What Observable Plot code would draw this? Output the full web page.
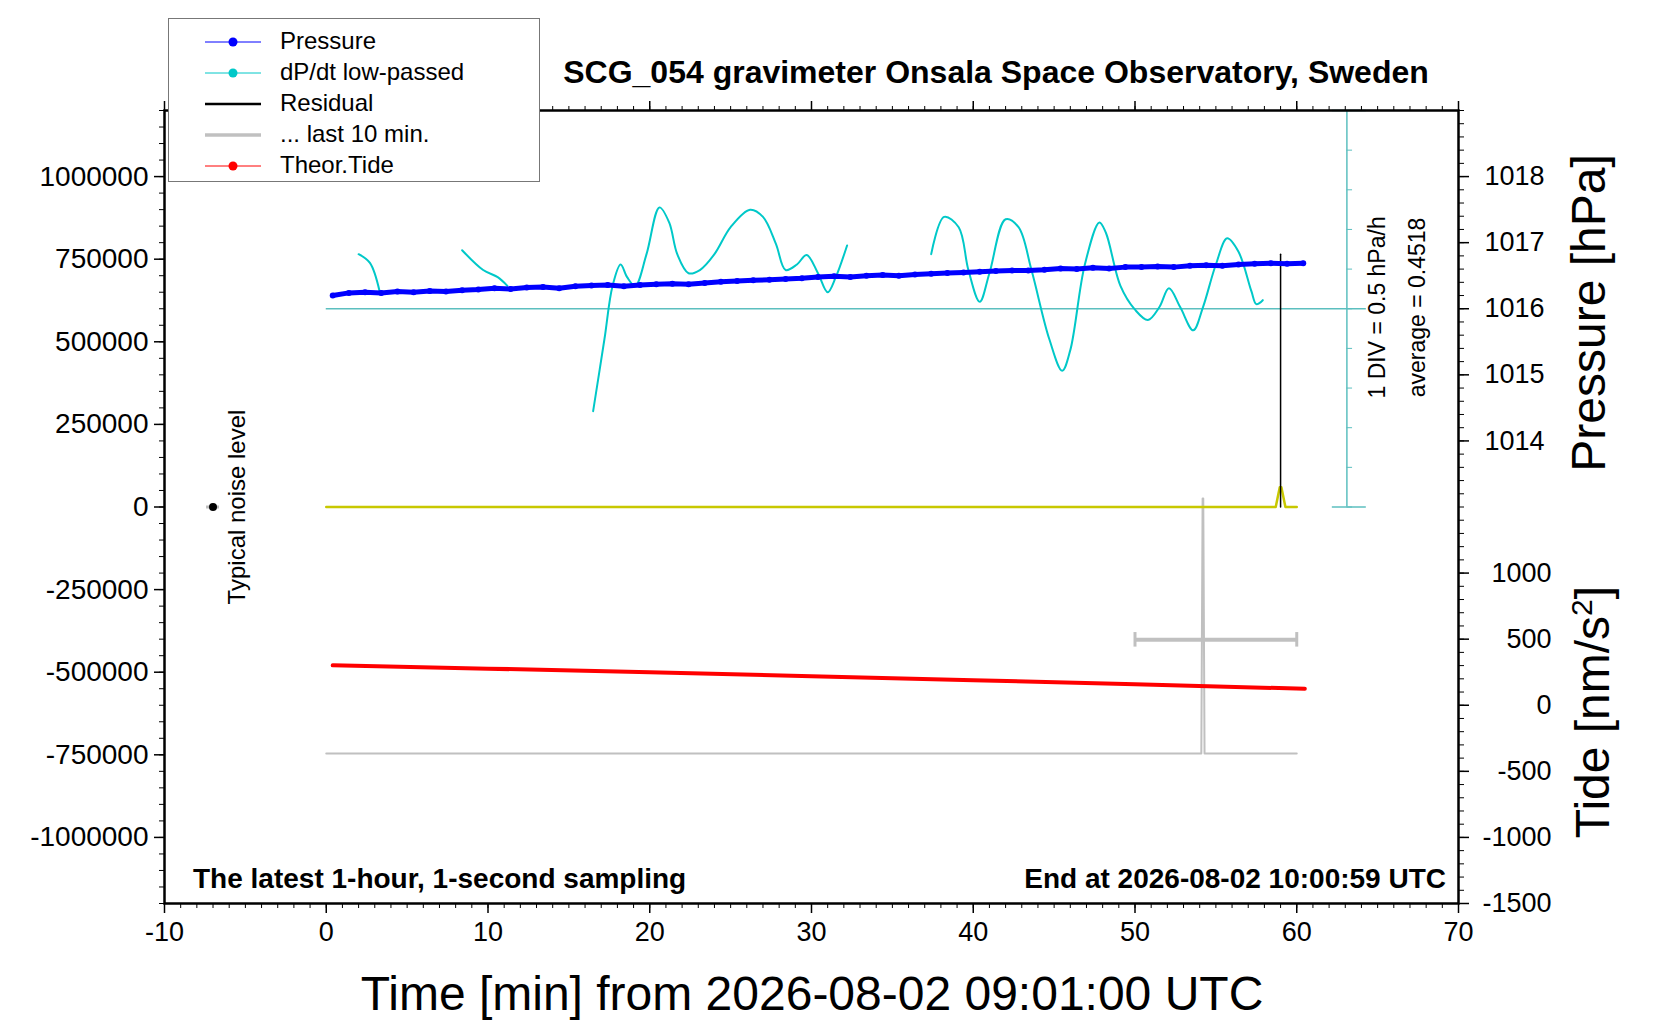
<!DOCTYPE html>
<html><head><meta charset="utf-8">
<script src="https://cdn.jsdelivr.net/npm/d3@7"></script>
<script src="https://cdn.jsdelivr.net/npm/@observablehq/plot@0.6"></script>
<style>
body{margin:0;background:#fff;font-family:"Liberation Sans",Arial,sans-serif;}
#wrap{position:relative;width:1660px;height:1020px;overflow:hidden;}
.ab{position:absolute;white-space:nowrap;color:#000;line-height:1;}
</style></head><body><div id="wrap"></div>
<script>
// ---- data ----
const pressTime = d3.range(0.4, 60.5, 1);
const pressHpa = [1016.20,1016.24,1016.25,1016.24,1016.26,1016.25,1016.27,1016.26,1016.28,1016.29,1016.31,1016.30,1016.32,1016.33,1016.31,1016.34,1016.35,1016.36,1016.34,1016.36,1016.37,1016.38,1016.37,1016.39,1016.41,1016.42,1016.43,1016.44,1016.45,1016.46,1016.48,1016.49,1016.48,1016.50,1016.51,1016.50,1016.52,1016.53,1016.54,1016.55,1016.56,1016.57,1016.58,1016.58,1016.59,1016.61,1016.60,1016.62,1016.61,1016.63,1016.63,1016.64,1016.63,1016.65,1016.66,1016.65,1016.67,1016.68,1016.69,1016.68,1016.69];
const dpSeg = [
 {t:[2.0,2.7,3.3], v:[1.14,1.03,0.67]},
 {t:[8.4,9.7,10.6,11.2], v:[1.19,0.94,0.85,0.74]},
 {t:[16.5,17.2,17.7,18.2,18.6,19.1,19.8,20.6,21.2,21.7,22.4,23.1,24.0,25.0,26.2,27.0,27.8,28.4,29.1,29.7,30.4,31.0,31.5,32.2],
  v:[-0.84,0.07,0.74,1.01,0.85,0.74,1.14,1.73,1.54,1.14,0.90,0.94,1.14,1.48,1.70,1.61,1.27,0.94,1.01,1.13,0.90,0.66,0.85,1.25]},
 {t:[37.4,38.2,39.1,39.7,40.4,41.0,42.0,42.8,43.6,44.7,45.5,46.0,46.9,47.8,48.2,49.1,50.0,50.8,51.5,52.1,52.8,53.6,54.2,55.0,55.7,56.4,57.2,57.5,57.9],
  v:[1.14,1.61,1.48,0.94,0.54,0.90,1.58,1.48,0.94,0.07,-0.33,-0.07,1.01,1.54,1.41,0.74,0.44,0.31,0.47,0.71,0.47,0.18,0.47,1.01,1.34,1.17,0.67,0.51,0.56]}
];
const dpAverage = 0.4518, dpPerDiv = 0.5;
const tideTime = [0.4,10,20,30,40,50,60.5];
const tideVal = [302,277,250,220,190,158,125];
const residTime = [0,13.4,13.5,14.3,14.4,58.7,58.95,59.0,59.05,59.3,60];
const residVal  = [0,0,0,0,0,0,60000,60000,60000,0,0];
const residBlackTime = [59.0,59.0];
const residBlackVal = [0,765000];
const lastTime = [0,54.1,54.18,54.22,54.3,60];
const lastVal = [-746000,-746000,26000,26000,-746000,-746000];
const lastBar = {x1:50,x2:60,x:54.2,y:-402000};
const noise = {x:-7,y:0};
const leftTicks = d3.range(-1000000,1000001,250000);
const pressTicks = [1014,1015,1016,1017,1018];
const tideTicks = [-1500,-1000,-500,0,500,1000];
const xTicks = d3.range(-10,71,10);

// ---- mappings onto the gravity axis ----
const gP = p => 1e6 + (p-1018)*200000;
const gT = t => -600000 + 400*t;
const gD = v => 600000 + (v-dpAverage)/dpPerDiv*120000;

const press = pressTime.map((t,i)=>({t, g:gP(pressHpa[i])}));
const dp = dpSeg.flatMap((s,k)=>s.t.map((t,i)=>({t, g:gD(s.v[i]), k})));
const tide = tideTime.map((t,i)=>({t, g:gT(tideVal[i])}));
const resid = residTime.map((t,i)=>({t,g:residVal[i]}));
const residB = residBlackTime.map((t,i)=>({t,g:residBlackVal[i]}));
const last = lastTime.map((t,i)=>({t,g:lastVal[i]}));
const cyanAxisX = 63.1;
const cyanTicks = d3.range(0,1200001,120000);

const font = "Liberation Sans, Arial, sans-serif";
const chart = Plot.plot({
  width:1660, height:1020,
  marginLeft:164, marginRight:202, marginTop:110, marginBottom:117,
  style:{fontFamily:font, background:"white"},
  x:{type:"linear",domain:[-10,70]},
  y:{type:"linear",domain:[-1200000,1200000]},
  marks:[
    Plot.ruleY([600000],{x1:0,x2:64.3,stroke:"#5cbfbf",strokeWidth:1.5}),
    Plot.ruleX([cyanAxisX],{y1:0,y2:1200000,stroke:"#5cbfbf",strokeWidth:1.5}),
    Plot.ruleY(cyanTicks,{x1:cyanAxisX,x2:cyanAxisX+0.35,y:d=>d,stroke:"#5cbfbf",strokeWidth:1}),
    Plot.ruleY([0,1200000],{x1:62.2,x2:64.3,stroke:"#5cbfbf",strokeWidth:1.5}),
    Plot.text(["1 DIV = 0.5 hPa/h"],{x:65.0,y:604000,rotate:-90,fontSize:23,fill:"#000"}),
    Plot.text(["average = 0.4518"],{x:67.5,y:604000,rotate:-90,fontSize:23,fill:"#000"}),
    Plot.line(dp,{x:"t",y:"g",z:"k",stroke:"#00c8c8",strokeWidth:2,curve:"catmull-rom"}),
    Plot.line(last,{x:"t",y:"g",stroke:"#c0c0c0",strokeWidth:2}),
    Plot.ruleY([lastBar],{x1:"x1",x2:"x2",y:"y",stroke:"#c0c0c0",strokeWidth:4}),
    Plot.ruleX([lastBar.x1,lastBar.x2],{x:d=>d,y1:lastBar.y-22000,y2:lastBar.y+22000,stroke:"#c0c0c0",strokeWidth:3}),
    Plot.line(resid,{x:"t",y:"g",stroke:"#c8c800",strokeWidth:2.5}),
    Plot.line(residB,{x:"t",y:"g",stroke:"#000",strokeWidth:1.5}),
    Plot.line(press,{x:"t",y:"g",stroke:"#0000ff",strokeWidth:5}),
    Plot.dot(press,{x:"t",y:"g",fill:"#0000ff",r:3}),
    Plot.line(tide,{x:"t",y:"g",stroke:"#ff0000",strokeWidth:4}),
    Plot.ruleY([noise],{x1:-7.4,x2:-6.6,y:"y",stroke:"#bbb",strokeWidth:3}),
    Plot.dot([noise],{x:"x",y:"y",fill:"#000",r:4}),
    Plot.text(["Typical noise level"],{x:-5.5,y:0,rotate:-90,fontSize:24,fill:"#000"}),
    Plot.axisY(leftTicks,{anchor:"left",tickSize:10,tickPadding:6,fontSize:28,tickFormat:d=>String(d),label:null,strokeWidth:1.5}),
    Plot.axisY(d3.range(-1200000,1200001,50000),{anchor:"left",tickSize:5,tickFormat:()=>"",label:null}),
    Plot.axisY(pressTicks.map(gP),{anchor:"right",tickSize:10,tickPadding:76,textAnchor:"end",fontSize:27,tickFormat:d=>String(Math.round((d-1e6)/200000+1018)),label:null,strokeWidth:1.5}),
    Plot.axisY(tideTicks.map(gT),{anchor:"right",tickSize:10,tickPadding:83,textAnchor:"end",fontSize:27,tickFormat:d=>String(Math.round((d+600000)/400)),label:null,strokeWidth:1.5}),
    Plot.axisY(d3.range(0,1200001,40000),{anchor:"right",tickSize:5,tickFormat:()=>"",label:null}),
    Plot.axisY(d3.range(-1200000,0,40000),{anchor:"right",tickSize:5,tickFormat:()=>"",label:null}),
    Plot.axisX(xTicks,{anchor:"bottom",tickSize:10,tickPadding:8,fontSize:27,tickFormat:d=>String(d),label:null,strokeWidth:1.5}),
    Plot.axisX(d3.range(-10,71,1),{anchor:"bottom",tickSize:5,tickFormat:()=>"",label:null}),
    Plot.axisX(xTicks,{anchor:"top",tickSize:10,tickFormat:()=>"",label:null,strokeWidth:1.5}),
    Plot.axisX(d3.range(-10,71,1),{anchor:"top",tickSize:5,tickFormat:()=>"",label:null}),
    Plot.frame({stroke:"#000",strokeWidth:2.5})
  ]
});
const wrap = document.getElementById("wrap");
wrap.appendChild(chart);

function add(parent, html, css){const d=document.createElement("div");d.className="ab";d.innerHTML=html;Object.assign(d.style,css);parent.appendChild(d);return d;}
add(wrap,"SCG_054 gravimeter Onsala Space Observatory, Sweden",{left:"996px",top:"56px",transform:"translateX(-50%)",fontWeight:"bold",fontSize:"32px"});
add(wrap,"The latest 1-hour, 1-second sampling",{left:"193px",top:"865px",fontWeight:"bold",fontSize:"28px"});
add(wrap,"End at 2026-08-02 10:00:59 UTC",{right:"214px",top:"865px",fontWeight:"bold",fontSize:"28px"});
add(wrap,"Time [min] from 2026-08-02 09:01:00 UTC",{left:"812px",top:"970px",transform:"translateX(-50%)",fontSize:"48px"});
add(wrap,"Pressure [hPa]",{left:"1589px",top:"313px",transform:"translate(-50%,-50%) rotate(-90deg)",fontSize:"48px"});
add(wrap,"Tide [nm/s<sup style='font-size:30px'>2</sup>]",{left:"1592px",top:"712px",transform:"translate(-50%,-50%) rotate(-90deg)",fontSize:"48px"});
add(wrap,"Gravity [nm/s<sup style='font-size:30px'>2</sup>]",{left:"-28px",top:"400px",transform:"translate(-50%,-50%) rotate(-90deg)",fontSize:"48px"});

const leg = add(wrap,"",{left:"168px",top:"18px",width:"372px",height:"164px",border:"1.5px solid #777",background:"#fff",boxSizing:"border-box"});
const legItems = [
 ["Pressure","#0000ff",1,true],["dP/dt low-passed","#00c8c8",1,true],["Residual","#000",2.5,false],["... last 10 min.","#c0c0c0",3.5,false],["Theor.Tide","#ff0000",1,true]
];
legItems.forEach((it,i)=>{
  const y = 22 + i*31;
  add(leg,`<svg width="56" height="12"><line x1="0" y1="6" x2="56" y2="6" stroke="${it[1]}" stroke-width="${it[2]}"/>${it[3]?`<circle cx="28" cy="6" r="4.5" fill="${it[1]}"/>`:""}</svg>`,
   {left:"36px",top:(y-6)+"px",width:"56px",height:"12px"});
  add(leg,it[0],{left:"111px",top:(y-12)+"px",fontSize:"24px"});
});
</script></body></html>
